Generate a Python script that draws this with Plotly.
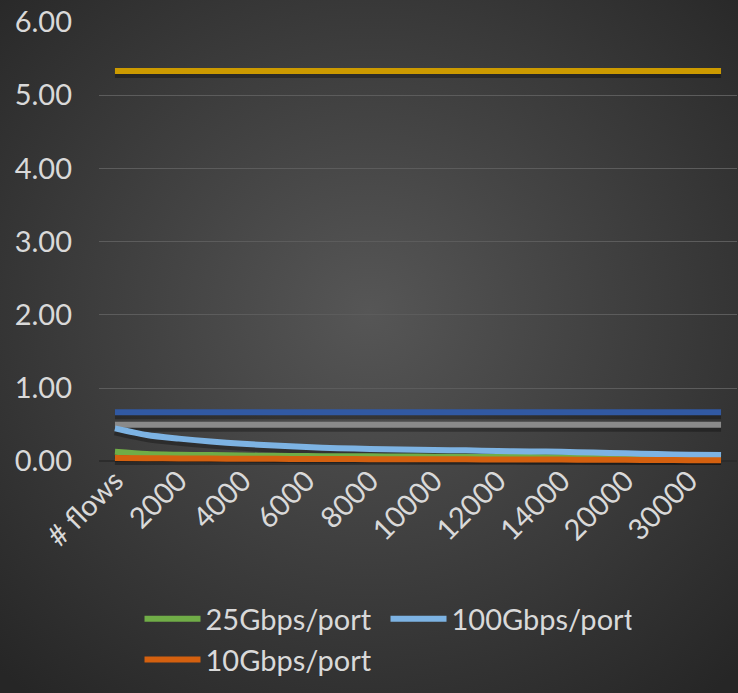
import base64
import plotly.graph_objects as go

# Category axis: flow counts (every second one is labelled)
categories = ["# flows", "1000", "2000", "3000", "4000", "5000", "6000", "7000",
              "8000", "9000", "10000", "11000", "12000", "13000", "14000",
              "16000", "20000", "25000", "30000", "40000"]
tick_labels = categories[::2]

# Series values
ref_high = [5.33] * 20
ref_mid = [0.67] * 20
ref_low = [0.50] * 20
gbps25 = [0.13, 0.10, 0.09, 0.085, 0.08, 0.075, 0.072, 0.07, 0.068, 0.066,
          0.064, 0.062, 0.06, 0.058, 0.056, 0.054, 0.052, 0.05, 0.048, 0.046]
gbps100 = [0.45, 0.36, 0.31, 0.27, 0.24, 0.215, 0.195, 0.18, 0.17, 0.16,
           0.155, 0.15, 0.14, 0.135, 0.13, 0.12, 0.11, 0.10, 0.09, 0.085]
gbps10 = [0.045, 0.042, 0.04, 0.038, 0.036, 0.034, 0.032, 0.031, 0.03, 0.029,
          0.028, 0.027, 0.026, 0.025, 0.024, 0.022, 0.02, 0.018, 0.016, 0.015]

series = [
    ("ref_high", ref_high, "#CC9A00", False),
    ("ref_mid", ref_mid, "#3159A3", False),
    ("ref_low", ref_low, "#8A8A8A", False),
    ("25Gbps/port", gbps25, "#70AD47", True),
    ("100Gbps/port", gbps100, "#7DB3E3", True),
    ("10Gbps/port", gbps10, "#D4600F", True),
]

W, H = 738, 693
ML, MR, MT, MB = 99, 1, 22, 228
FONT = "Lato"
FS = 29
TXT = "#D9D9D9"

fig = go.Figure()

# soft drop shadows under each line
for name, vals, color, show in series:
    fig.add_trace(go.Scatter(
        x=categories, y=[v - 0.035 for v in vals], mode="lines",
        line=dict(color="rgba(0,0,0,0.3)", width=9, shape="spline", smoothing=0.8),
        hoverinfo="skip", showlegend=False))

for name, vals, color, show in series:
    fig.add_trace(go.Scatter(
        x=categories, y=vals, mode="lines", name=name,
        line=dict(color=color, width=6, shape="spline", smoothing=0.8),
        showlegend=show))

# radial gradient backdrop
svg = (f'<svg xmlns="http://www.w3.org/2000/svg" width="{W}" height="{H}">'
       '<defs><radialGradient id="g" cx="50%" cy="45%" r="72%">'
       '<stop offset="0%" stop-color="#565656"/>'
       '<stop offset="100%" stop-color="#262626"/>'
       '</radialGradient></defs>'
       f'<rect width="{W}" height="{H}" fill="url(#g)"/></svg>')
src = "data:image/svg+xml;base64," + base64.b64encode(svg.encode()).decode()
pw = W - ML - MR
ph = H - MT - MB
fig.add_layout_image(dict(
    source=src, xref="paper", yref="paper",
    x=-ML / pw, y=1 + MT / ph, sizex=W / pw, sizey=H / ph,
    xanchor="left", yanchor="top", sizing="stretch", layer="below"))

fig.update_layout(
    width=W, height=H,
    margin=dict(l=ML, r=MR, t=MT, b=MB),
    paper_bgcolor="#3a3a3a", plot_bgcolor="rgba(0,0,0,0)",
    font=dict(family=FONT, size=FS, color=TXT),
    legend=dict(orientation="h", x=0.0635, y=-0.29, xanchor="left", yanchor="top",
                font=dict(family=FONT, size=FS, color=TXT),
                bgcolor="rgba(0,0,0,0)", itemwidth=56, entrywidth=175,
                tracegroupgap=0),
    xaxis=dict(type="category", range=[-0.5, 19.5], tickmode="array",
               tickvals=tick_labels, ticktext=tick_labels, tickangle=-45,
               showgrid=False, zeroline=False, showline=False, ticks="",
               ticklabelstandoff=-8,
               tickfont=dict(family=FONT, size=FS, color=TXT)),
    yaxis=dict(range=[-0.05, 6.0], tickvals=[0, 1, 2, 3, 4, 5, 6],
               tickformat=".2f", showgrid=True, gridcolor="#5c5c5c", gridwidth=1,
               zeroline=True, zerolinecolor="#2c2c2c", zerolinewidth=1.5,
               showline=False, ticks="", ticklabelstandoff=26,
               tickfont=dict(family=FONT, size=FS, color=TXT)),
)

fig.write_html("out.html")
